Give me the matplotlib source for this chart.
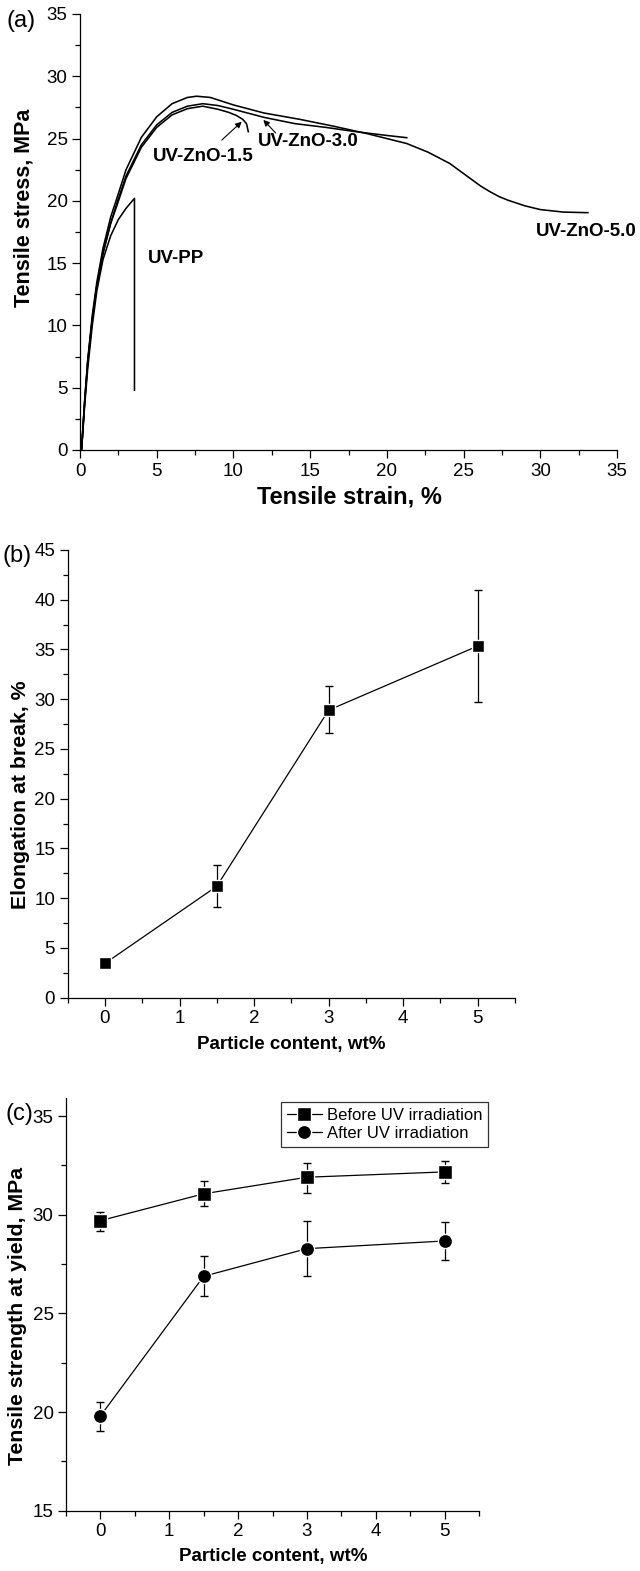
import matplotlib
matplotlib.use("Agg")
import matplotlib.pyplot as plt
from matplotlib.ticker import MultipleLocator

plt.rcParams["font.family"] = "Liberation Sans"

# (a) stress-strain curves
pp_strain = [0.1, 0.3, 0.5, 0.8, 1.1, 1.5, 2.0, 2.5, 3.0, 3.55, 3.55]
pp_stress = [0, 3.5, 6.5, 10.0, 12.8, 15.3, 17.2, 18.5, 19.4, 20.2, 4.8]

zno15_strain = [0.1, 0.3, 0.5, 0.8, 1.1, 1.5, 2.0, 2.4, 3.0, 4.0, 5.0, 6.0, 7.0, 8.0, 9.0, 9.7, 10.2, 10.6, 10.85, 10.97]
zno15_stress = [0, 3.8, 7.0, 10.5, 13.2, 15.8, 18.2, 19.6, 21.8, 24.3, 25.9, 26.9, 27.4, 27.6, 27.35, 27.1, 26.85, 26.55, 26.2, 25.55]

zno30_strain = [0.1, 0.3, 0.5, 0.8, 1.1, 1.5, 2.0, 2.4, 3.0, 4.0, 5.0, 6.0, 7.0, 8.0, 9.0, 10.0, 12.0, 14.0, 16.0, 18.0, 20.0, 21.3]
zno30_stress = [0, 3.8, 7.0, 10.5, 13.2, 15.8, 18.2, 19.8, 22.0, 24.5, 26.1, 27.1, 27.6, 27.8, 27.65, 27.35, 26.7, 26.2, 25.9, 25.55, 25.25, 25.07]

zno50_strain = [0.1, 0.3, 0.5, 0.8, 1.1, 1.5, 2.0, 2.4, 3.0, 4.0, 5.0, 6.0, 7.0, 7.6, 8.5, 10.0, 12.0, 14.3, 16.5, 18.7,
                20.0, 21.3, 22.7, 24.1, 25.1, 26.1, 26.7, 27.3, 27.9, 29.0, 30.0, 31.5, 33.1]
zno50_stress = [0, 3.9, 7.2, 10.8, 13.5, 16.2, 18.7, 20.2, 22.5, 25.1, 26.75, 27.8, 28.3, 28.4, 28.3, 27.7, 27.05, 26.55, 26.0, 25.4,
                25.0, 24.6, 23.9, 23.0, 22.1, 21.2, 20.75, 20.35, 20.05, 19.6, 19.3, 19.1, 19.05]

# (b) elongation at break
content = [0, 1.5, 3, 5]
elong = [3.45, 11.2, 28.9, 35.35]
elong_err_lo = [0, 2.1, 2.3, 5.6]
elong_err_hi = [0, 2.1, 2.4, 5.65]

# (c) tensile strength at yield
before = [29.7, 31.06, 31.9, 32.17]
before_lo = [0.5, 0.6, 0.8, 0.55]
before_hi = [0.45, 0.64, 0.7, 0.56]
after = [19.8, 26.88, 28.28, 28.67]
after_lo = [0.74, 1.0, 1.38, 0.97]
after_hi = [0.73, 1.02, 1.39, 0.98]

W, H = 640, 1571
fig = plt.figure(figsize=(W / 100, H / 100), dpi=100)


def px_axes(l, t, r, b):
    return fig.add_axes([l / W, 1 - b / H, (r - l) / W, (b - t) / H])


def ftext(x, y, s, **kw):
    # position in reference pixels (from top-left)
    fig.text(x / W, 1 - y / H, s, ha="center", va="center", **kw)


def style(ax):
    for s in ["top", "right"]:
        ax.spines[s].set_visible(False)
    for s in ["left", "bottom"]:
        ax.spines[s].set_linewidth(0.9)
    ax.tick_params(which="major", direction="out", length=6, width=0.9, labelsize=13.5, pad=3)
    ax.tick_params(which="minor", direction="out", length=3.5, width=0.9)


# ---- (a)
ax = px_axes(80, 14, 617, 450)
for xs, ys in [(pp_strain, pp_stress), (zno15_strain, zno15_stress),
               (zno30_strain, zno30_stress), (zno50_strain, zno50_stress)]:
    ax.plot(xs, ys, color="black", lw=1.15, clip_on=False)
ax.set_xlim(0, 35)
ax.set_ylim(0, 35)
ax.xaxis.set_major_locator(MultipleLocator(5))
ax.xaxis.set_minor_locator(MultipleLocator(2.5))
ax.yaxis.set_major_locator(MultipleLocator(5))
ax.yaxis.set_minor_locator(MultipleLocator(2.5))
style(ax)
tl = dict(fontsize=13.5, fontweight="bold", va="center")
ax.text(4.43, 15.4, "UV-PP", **tl)
ax.text(4.77, 23.54, "UV-ZnO-1.5", **tl)
ax.text(11.62, 24.76, "UV-ZnO-3.0", **tl)
ax.text(29.7, 17.52, "UV-ZnO-5.0", clip_on=False, **tl)
arrow = dict(arrowstyle="-|>", color="black", lw=0.8, mutation_scale=9, shrinkA=0, shrinkB=0)
ax.annotate("", xy=(10.54, 26.35), xytext=(9.24, 24.88), arrowprops=arrow)
ax.annotate("", xy=(11.95, 26.5), xytext=(12.75, 25.45), arrowprops=arrow)
ftext(349, 497, "Tensile strain, %", fontsize=17, fontweight="bold")
ftext(24, 208, "Tensile stress, MPa", fontsize=15.5, fontweight="bold", rotation=90)
ftext(21, 21, "(a)", fontsize=17)

# ---- (b)
ax = px_axes(67.7, 550, 515, 997.7)
ax.errorbar(content, elong, yerr=[elong_err_lo, elong_err_hi], color="black", lw=0.9,
            elinewidth=0.9, capsize=2.8, capthick=0.9, marker="s", ms=8.8,
            mfc="black", mec="white", mew=1.0)
ax.set_xlim(-0.5, 5.5)
ax.set_ylim(0, 45)
ax.xaxis.set_major_locator(MultipleLocator(1))
ax.xaxis.set_minor_locator(MultipleLocator(0.5))
ax.yaxis.set_major_locator(MultipleLocator(5))
ax.yaxis.set_minor_locator(MultipleLocator(2.5))
style(ax)
ftext(291, 1045, "Particle content, wt%", fontsize=13.5, fontweight="bold")
ftext(21, 795, "Elongation at break, %", fontsize=15.3, fontweight="bold", rotation=90)
ftext(17, 556, "(b)", fontsize=17)

# ---- (c)
ax = px_axes(66, 1098.3, 479, 1510.7)
ax.errorbar(content, before, yerr=[before_lo, before_hi], color="black", lw=0.9,
            elinewidth=0.9, capsize=2.8, capthick=0.9, marker="s", ms=9.6,
            mfc="black", mec="white", mew=1.0, label="Before UV irradiation")
ax.errorbar(content, after, yerr=[after_lo, after_hi], color="black", lw=0.9,
            elinewidth=0.9, capsize=2.8, capthick=0.9, marker="o", ms=10.2,
            mfc="black", mec="white", mew=1.0, label="After UV irradiation")
ax.set_xlim(-0.5, 5.5)
ax.set_ylim(15, 35.9)
ax.xaxis.set_major_locator(MultipleLocator(1))
ax.xaxis.set_minor_locator(MultipleLocator(0.5))
ax.yaxis.set_major_locator(MultipleLocator(5))
ax.yaxis.set_minor_locator(MultipleLocator(2.5))
style(ax)
ftext(273, 1557, "Particle content, wt%", fontsize=13.5, fontweight="bold")
ftext(18, 1316, "Tensile strength at yield, MPa", fontsize=15.3, fontweight="bold", rotation=90)
ftext(19, 1114, "(c)", fontsize=17)

handles, labels = ax.get_legend_handles_labels()
handles = [h[0] for h in handles]
leg = ax.legend(handles, labels, loc="upper right", bbox_to_anchor=(488 / W, 1 - 1101.7 / H),
                bbox_transform=fig.transFigure, fontsize=12, frameon=True, fancybox=False,
                edgecolor="black", handlelength=2.1, handletextpad=0.3, borderpad=0.35,
                labelspacing=0.2, borderaxespad=0)
leg.get_frame().set_linewidth(0.9)

fig.savefig("out.png", dpi=100)
